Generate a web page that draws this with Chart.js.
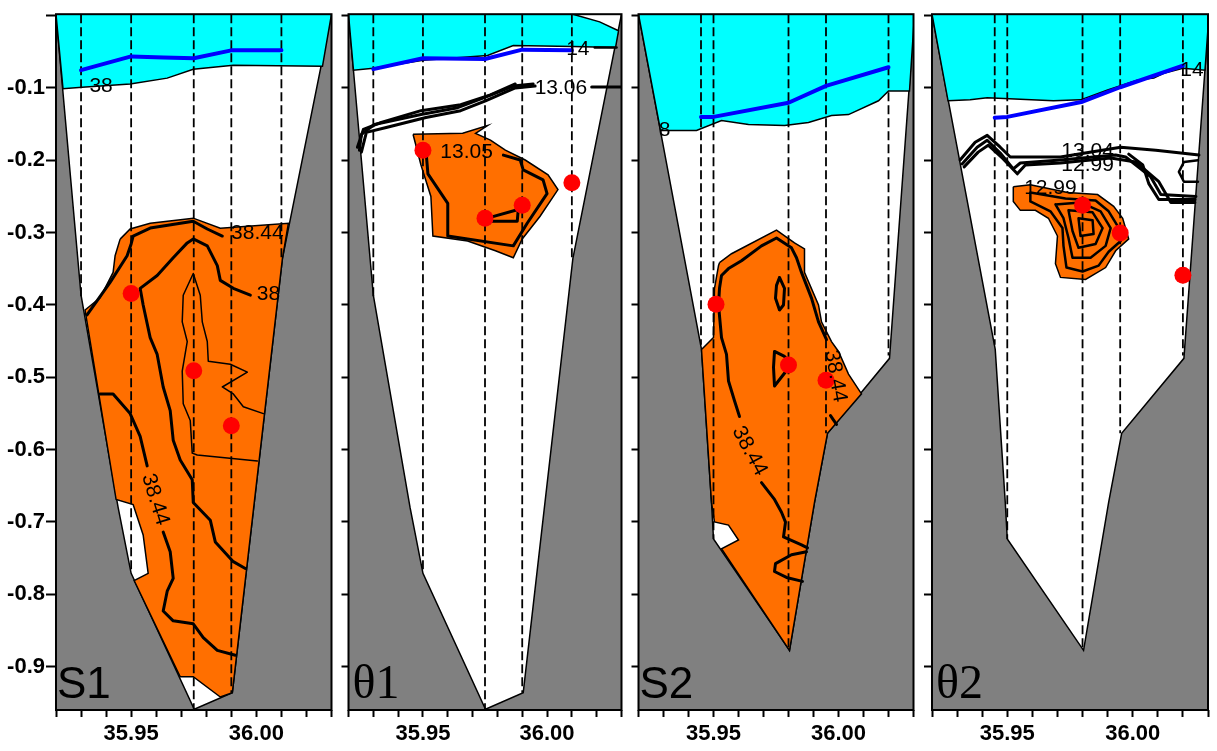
<!DOCTYPE html>
<html>
<head>
<meta charset="utf-8">
<script src="https://cdn.jsdelivr.net/npm/chart.js@4.4.1/dist/chart.umd.min.js"></script>
<style>
body { margin: 0; background: #fff; }
#wrap { position: relative; width: 1217px; height: 751px; }
canvas { position: absolute; top: 0; }
</style>
</head>
<body>
<div id="wrap">
  <canvas id="c1" width="340" height="751" style="left:0px"></canvas>
  <canvas id="c2" width="290" height="751" style="left:340px"></canvas>
  <canvas id="c3" width="292" height="751" style="left:630px"></canvas>
  <canvas id="c4" width="295" height="751" style="left:922px"></canvas>
</div>
<script>
// axes
var xMin = 35.92, xMax = 36.03, yMin = -0.96, yMax = 0.002;
var xLabelTicks = [35.95, 36.00];
var yLabelTicks = [-0.1, -0.2, -0.3, -0.4, -0.5, -0.6, -0.7, -0.8, -0.9];

// stations (dashed verticals) and their bottom depth
var stationsA = [35.930, 35.950, 35.975, 35.990, 36.010];
var stationBottomA = [-0.39, -0.771, -0.959, -0.936, -0.336];
var stationsB = [35.945, 35.950, 35.980, 35.995, 36.020];
var stationBottomB = [-0.455, -0.7235, -0.877, -0.5775, -0.47];

// section outlines (water inside the bathymetry)
var bankA = [[35.92,0.002],[35.93,-0.3865],[35.9448,-0.680],[35.95,-0.771],[35.9752,-0.959],[35.9904,-0.936],[36.0104,-0.336],[36.03,0.002]];
var bankB = [[35.92,0.002],[35.9452,-0.4615],[35.9492,-0.673],[35.950,-0.7235],[35.9804,-0.8776],[35.9904,-0.673],[35.9956,-0.5775],[36.0204,-0.4738],[36.0304,0.002]];

// ---- S1 ----
var cyanS1 = [[35.92,0.002],[35.9228,-0.101],[35.9304,-0.099],[35.9496,-0.0945],[35.9644,-0.0864],[35.9748,-0.074],[35.9908,-0.0686],[36.0264,-0.070],[36.03,0.002]];
var blueS1 = [[35.930,-0.0754],[35.950,-0.0564],[35.963,-0.0577],[35.975,-0.059],[35.990,-0.048],[36.010,-0.048]];
var orangeS1 = [[35.9456,-0.309],[35.9496,-0.295],[35.9576,-0.287],[35.9748,-0.280],[35.9856,-0.294],[36.0128,-0.287],[36.0104,-0.336],[35.9904,-0.936],[35.9856,-0.942],[35.9748,-0.914],[35.9696,-0.914],[35.9512,-0.781],[35.9568,-0.771],[35.9548,-0.718],[35.9508,-0.676],[35.944,-0.669],[35.9316,-0.407],[35.9376,-0.390],[35.9428,-0.355],[35.9436,-0.332]];
var s1LineA = [[35.9324,-0.4138],[35.9416,-0.3688],[35.9484,-0.3319],[35.95,-0.3156],[35.9508,-0.3047],[35.9576,-0.2937],[35.9748,-0.2842],[35.9804,-0.295],[35.9864,-0.3047]];
var s1LineB = [[35.9976,-0.3865],[35.9908,-0.377],[35.9856,-0.366],[35.9844,-0.3456],[35.9804,-0.3183],[35.9748,-0.3087],[35.9724,-0.3142],[35.9668,-0.3347],[35.9604,-0.3592],[35.9536,-0.377],[35.9548,-0.4001],[35.9576,-0.4452],[35.9604,-0.4684],[35.9628,-0.5134],[35.9656,-0.546],[35.9668,-0.587],[35.9696,-0.6143],[35.9744,-0.6416],[35.9748,-0.673],[35.9816,-0.6976],[35.9836,-0.7276],[35.9908,-0.7549],[35.9956,-0.7644]];
var s1LineC1 = [[35.9376,-0.523],[35.9428,-0.523],[35.9496,-0.5502],[35.9536,-0.5816],[35.9564,-0.6225]];
var s1LineC2 = [[35.9628,-0.714],[35.9656,-0.7412],[35.9668,-0.778],[35.9644,-0.7958],[35.9628,-0.8231],[35.9668,-0.8367],[35.9748,-0.8408],[35.9788,-0.8599],[35.9844,-0.8776],[35.9916,-0.8844]];
var s1Thin = [[36.0004,-0.6157],[35.9764,-0.6075],[35.9744,-0.6048],[35.9736,-0.5598],[35.9708,-0.5366],[35.9704,-0.4915],[35.9724,-0.4506],[35.9704,-0.4233],[35.9708,-0.3865],[35.9748,-0.3565],[35.9776,-0.3865],[35.9784,-0.4233],[35.9804,-0.4506],[35.9808,-0.4779],[35.9896,-0.482],[35.9964,-0.4929],[35.9864,-0.5134],[35.9908,-0.523],[35.9948,-0.5407],[36.0028,-0.5502]];
var dotsS1 = [[35.950,-0.384],[35.975,-0.491],[35.990,-0.567]];
var labelsS1 = [['38',35.938,-0.0973,0],['38.44',36.0004,-0.3006,0],['38',36.0048,-0.385,0],['38.44',35.9596,-0.669,73]];

// ---- theta1 ----
var cyanT1 = [[35.92,0.002],[35.922,-0.0754],[35.930,-0.0727],[35.950,-0.0618],[35.976,-0.055],[35.9864,-0.0413],[36.0104,-0.0427],[36.0276,-0.0441],[36.0288,-0.0209],[36.0212,-0.0086],[36.0104,0.002]];
var blueT1 = [[35.930,-0.074],[35.950,-0.059],[35.975,-0.060],[35.990,-0.047],[36.010,-0.048]];
var orangeT1 = [[35.946,-0.164],[35.966,-0.1627],[35.976,-0.152],[35.9712,-0.1627],[35.9772,-0.172],[35.9832,-0.186],[35.9912,-0.1996],[36.0004,-0.220],[36.0044,-0.2405],[35.9972,-0.2774],[35.990,-0.3088],[35.9864,-0.3347],[35.9792,-0.325],[35.968,-0.3115],[35.954,-0.3047],[35.9532,-0.250],[35.9492,-0.2064]];
var t1Band1 = [[35.9244,-0.186],[35.9252,-0.1641],[35.9304,-0.1505],[35.9492,-0.1368],[35.964,-0.1273],[35.9744,-0.1136],[35.9864,-0.0973],[35.9944,-0.0945]];
var t1Band2 = [[35.9236,-0.182],[35.926,-0.1573],[35.9332,-0.1477],[35.9492,-0.1314],[35.9652,-0.1232],[35.9772,-0.1096],[35.9872,-0.0945]];
var t1Band3 = [[35.9252,-0.1887],[35.9272,-0.1614],[35.9352,-0.1546],[35.9512,-0.1409],[35.9652,-0.1314],[35.9752,-0.1177],[35.9872,-0.100],[35.9952,-0.0973]];
var t1BandEnd = [[36.018,-0.0986],[36.0304,-0.0986]];
var t1Line14 = [[36.0192,-0.0441],[36.028,-0.0441]];
var t1Inner = [[35.9512,-0.186],[35.952,-0.2187],[35.960,-0.2596],[35.960,-0.3047],[35.9864,-0.3183],[35.992,-0.287],[36.000,-0.246],[35.9984,-0.227],[35.9904,-0.2132],[35.9892,-0.1996],[35.9824,-0.1928]];
var t1Loop = [[35.976,-0.280],[35.9884,-0.268],[35.988,-0.2842],[35.9772,-0.2842],[35.976,-0.280]];
var dotsT1 = [[35.950,-0.186],[35.975,-0.280],[35.990,-0.262],[36.010,-0.231]];
var labelsT1 = [['13.05',35.9676,-0.1887,0],['13.06',36.0056,-0.100,0],['14',36.0124,-0.0468,0]];

// ---- S2 ----
var cyanS2 = [[35.92,0.002],[35.9288,-0.1587],[35.9352,-0.1587],[35.9432,-0.1587],[35.9532,-0.145],[35.964,-0.1505],[35.9784,-0.1518],[35.988,-0.1477],[35.9972,-0.1382],[36.004,-0.1368],[36.016,-0.1177],[36.020,-0.1041],[36.0284,-0.1041],[36.0304,0.002]];
var blueS2 = [[35.945,-0.140],[35.950,-0.140],[35.980,-0.1205],[35.995,-0.097],[36.020,-0.0714]];
var orangeS2 = [[35.9524,-0.3415],[35.9572,-0.3292],[35.9752,-0.2965],[35.9824,-0.3142],[35.9864,-0.3224],[35.9864,-0.355],[35.992,-0.400],[35.9932,-0.4233],[35.9972,-0.4506],[36.000,-0.4643],[36.004,-0.4956],[36.0092,-0.5229],[35.9956,-0.5775],[35.9904,-0.673],[35.9804,-0.8776],[35.9532,-0.737],[35.960,-0.725],[35.956,-0.7044],[35.9504,-0.700],[35.9492,-0.673],[35.9452,-0.4615],[35.948,-0.452],[35.950,-0.445],[35.9504,-0.377],[35.952,-0.3456]];
var s2Line1 = [[35.9604,-0.5543],[35.9584,-0.5325],[35.956,-0.5052],[35.9552,-0.4684],[35.9532,-0.4452],[35.952,-0.400],[35.9524,-0.377],[35.9532,-0.3592],[35.956,-0.3497],[35.9612,-0.3388],[35.9692,-0.3183],[35.9752,-0.3074],[35.9812,-0.321],[35.9832,-0.3347],[35.9852,-0.355],[35.9892,-0.3906],[35.992,-0.4233],[35.9952,-0.4479]];
var s2Line2 = [[35.9692,-0.6457],[35.9744,-0.6689],[35.9772,-0.6866],[35.9788,-0.7003],[35.978,-0.7208],[35.9852,-0.7317],[35.9876,-0.7358]];
var s2Line3 = [[35.9872,-0.7412],[35.9812,-0.7453],[35.9748,-0.7576],[35.9744,-0.7685],[35.9792,-0.7767],[35.9856,-0.7822]];
var s2Line4 = [[35.9968,-0.5529],[35.9992,-0.5652]];
var s2Lens = [[35.9764,-0.362],[35.9784,-0.377],[35.978,-0.400],[35.9764,-0.4069],[35.9748,-0.3906],[35.9752,-0.3729],[35.9764,-0.362]];
var s2Wedge = [[35.9744,-0.4643],[35.9784,-0.4711],[35.9812,-0.482],[35.9744,-0.512],[35.974,-0.4861],[35.9744,-0.4643]];
var dotsS2 = [[35.951,-0.399],[35.980,-0.483],[35.995,-0.504]];
var labelsS2 = [['38.44',35.9644,-0.602,62],['38.44',35.9988,-0.4984,80],['8',35.9304,-0.1587,0]];

// ---- theta2 ----
var cyanT2 = [[35.92,0.002],[35.9264,-0.1177],[35.9352,-0.1164],[35.942,-0.1136],[35.9684,-0.1177],[35.9792,-0.1164],[35.990,-0.1027],[36.002,-0.0891],[36.0084,-0.0864],[36.0124,-0.0796],[36.020,-0.0727],[36.0288,-0.0754],[36.0304,0.002]];
var blueT2 = [[35.945,-0.141],[35.950,-0.140],[35.980,-0.119],[35.995,-0.099],[36.020,-0.069]];
var orangeT2 = [[35.9524,-0.2365],[35.9592,-0.2337],[35.974,-0.2446],[35.986,-0.2474],[35.9924,-0.2637],[35.996,-0.2801],[35.9984,-0.3087],[35.9932,-0.3251],[35.9892,-0.3483],[35.9812,-0.3647],[35.9712,-0.3619],[35.9692,-0.3429],[35.970,-0.3047],[35.9664,-0.2801],[35.9612,-0.2692],[35.9552,-0.2692],[35.9524,-0.257]];
var t2TopA = [[35.9312,-0.1996],[35.9372,-0.1751],[35.942,-0.1655],[35.9472,-0.1819],[35.9512,-0.1955],[35.9712,-0.1955],[35.9952,-0.1819],[36.0092,-0.186],[36.0264,-0.1928]];
var t2TopB = [[35.932,-0.205],[35.938,-0.1819],[35.942,-0.1723],[35.9472,-0.19],[35.9524,-0.2119],[35.9552,-0.2037],[35.9712,-0.1996],[35.9932,-0.1928],[35.9972,-0.1955],[36.0072,-0.223],[36.0112,-0.2474],[36.0252,-0.2501]];
var t2TopC = [[35.9328,-0.2091],[35.9384,-0.1887],[35.9424,-0.1791],[35.9484,-0.1982],[35.954,-0.2187],[35.9572,-0.2064],[35.9712,-0.2037],[35.9912,-0.1969],[36.0012,-0.2023],[36.0104,-0.2296],[36.0152,-0.2583],[36.0248,-0.2583]];
var t2TopD = [[35.9984,-0.1914],[36.004,-0.2064],[36.0064,-0.2323],[36.0104,-0.2542],[36.0248,-0.2542]];
var t2TopE = [[36.026,-0.200],[36.0204,-0.2023],[36.0184,-0.216],[36.0204,-0.2296],[36.026,-0.2296]];
var t2Loop1 = [[35.9592,-0.2446],[35.9732,-0.2528],[35.9852,-0.2555],[35.9904,-0.2705],[35.994,-0.291],[35.9952,-0.3115],[35.9904,-0.3265],[35.9864,-0.3456],[35.980,-0.3538],[35.9736,-0.3483],[35.9724,-0.3183],[35.972,-0.2937],[35.9672,-0.2705],[35.9592,-0.2569],[35.9592,-0.2446]];
var t2Loop2 = [[35.9692,-0.261],[35.9792,-0.2583],[35.9872,-0.2705],[35.9912,-0.2937],[35.9892,-0.3183],[35.9832,-0.3347],[35.976,-0.3347],[35.9744,-0.3074],[35.9724,-0.2801],[35.9692,-0.261]];
var t2Loop3 = [[35.9744,-0.2692],[35.984,-0.2719],[35.988,-0.2937],[35.9852,-0.3156],[35.9784,-0.321],[35.976,-0.2978],[35.9744,-0.2692]];
var t2Loop4 = [[35.9784,-0.2801],[35.984,-0.2828],[35.9844,-0.3019],[35.9792,-0.3047],[35.9784,-0.2801]];
var dotsT2 = [[35.980,-0.262],[35.995,-0.3005],[36.020,-0.359]];
var labelsT2 = [['12.99',35.9672,-0.2391,0],['13.04',35.982,-0.1873,0],['12.99',35.982,-0.2064,0],['14',36.0236,-0.0755,0]];

function pts(a) { return a.map(function(p){ return {x: p[0], y: p[1]}; }); }

function area(a, color, order) {
  var d = pts(a); d.push(d[0]);
  return { data: d, fill: 'shape', backgroundColor: color, borderColor: '#000', borderWidth: 1.5, order: order };
}
function curve(a, w, color, order) {
  return { data: pts(a), fill: false, borderColor: color, borderWidth: w, borderCapStyle: 'round', borderJoinStyle: 'round', order: order };
}
function stationLines(xs, bottoms) {
  return xs.map(function(x, i){
    return { data: [{x: x, y: yMax}, {x: x, y: bottoms[i]}], fill: false, borderColor: '#000', borderWidth: 1.8, borderDash: [9, 4], order: 40 };
  });
}
function dotSet(a) {
  return { data: pts(a), showLine: false, pointRadius: 8.5, pointBackgroundColor: '#ff0000', pointBorderWidth: 0, pointBorderColor: '#ff0000', order: 5 };
}

function decor(spec) {
  return {
    id: 'decor',
    beforeDatasetsDraw: function(chart) {
      var a = chart.chartArea, ctx = chart.ctx;
      ctx.save();
      ctx.fillStyle = '#808080';
      ctx.fillRect(a.left, a.top, a.right - a.left, a.bottom - a.top);
      ctx.restore();
    },
    afterDatasetsDraw: function(chart) {
      var a = chart.chartArea, ctx = chart.ctx, sx = chart.scales.x, sy = chart.scales.y;
      ctx.save();
      ctx.beginPath(); ctx.rect(a.left, a.top, a.right - a.left, a.bottom - a.top); ctx.clip();
      ctx.fillStyle = '#000';
      ctx.font = '21px "Liberation Sans"';
      ctx.textAlign = 'center'; ctx.textBaseline = 'middle';
      spec.labels.forEach(function(l){
        ctx.save();
        ctx.translate(sx.getPixelForValue(l[1]), sy.getPixelForValue(l[2]));
        ctx.rotate(l[3] * Math.PI / 180);
        ctx.fillText(l[0], 0, 0);
        ctx.restore();
      });
      ctx.font = spec.nameFont;
      ctx.textAlign = 'left'; ctx.textBaseline = 'alphabetic';
      ctx.fillText(spec.name, a.left + spec.nameDx, a.bottom - 12);
      ctx.restore();
    },
    afterDraw: function(chart) {
      var a = chart.chartArea, ctx = chart.ctx;
      ctx.save();
      ctx.strokeStyle = '#000'; ctx.lineWidth = 2;
      ctx.strokeRect(a.left, a.top, a.right - a.left, a.bottom - a.top);
      ctx.restore();
    }
  };
}

function makeChart(id, spec) {
  var tickFont = { family: '"Liberation Sans", Arial, sans-serif', size: 22, weight: 'bold' };
  new Chart(document.getElementById(id), {
    type: 'line',
    data: { datasets: spec.datasets },
    options: {
      responsive: false,
      animation: false,
      events: [],
      layout: { padding: { top: 5, right: spec.padRight, left: 0, bottom: 0 } },
      elements: { point: { radius: 0, hoverRadius: 0 }, line: { tension: 0 } },
      plugins: { legend: { display: false }, tooltip: { enabled: false } },
      scales: {
        x: {
          type: 'linear', min: xMin, max: xMax,
          afterFit: function(s) { s.height = 41; },
          border: { display: false },
          grid: { drawOnChartArea: false, drawTicks: true, tickLength: 7, tickColor: '#000', tickWidth: 2 },
          ticks: {
            stepSize: 0.01, autoSkip: false, maxRotation: 0, padding: 4, color: '#000', font: tickFont,
            callback: function(v) {
              var hit = xLabelTicks.filter(function(t){ return Math.abs(t - v) < 1e-6; });
              return hit.length ? hit[0].toFixed(2) : '';
            }
          }
        },
        y: {
          type: 'linear', min: yMin, max: yMax,
          afterFit: function(s) { s.width = spec.axisWidth; },
          border: { display: false },
          grid: { drawOnChartArea: false, drawTicks: true, tickLength: spec.tickLen, tickColor: '#000', tickWidth: 2 },
          ticks: {
            stepSize: 0.1, includeBounds: false, autoSkip: false, padding: 1, color: '#000', font: tickFont,
            callback: function(v) {
              if (!spec.showY) return '';
              var hit = yLabelTicks.filter(function(t){ return Math.abs(t - v) < 1e-6; });
              return hit.length ? hit[0].toFixed(1) : '';
            }
          }
        }
      }
    },
    plugins: [decor(spec)]
  });
}

var TH = 3, TN = 1.5;

makeChart('c1', {
  name: 'S1', nameFont: '44px "Liberation Sans"', nameDx: 1,
  axisWidth: 56, padRight: 7, tickLen: 10, showY: true, labels: labelsS1,
  datasets: [
    area(bankA, '#ffffff', 100),
    area(cyanS1, '#00ffff', 90),
    area(orangeS1, '#ff6f00', 80),
    curve(s1Thin, TN, '#000', 60),
    curve(s1LineA, TH, '#000', 55),
    curve(s1LineB, TH, '#000', 55),
    curve(s1LineC1, TH, '#000', 55),
    curve(s1LineC2, TH, '#000', 55)
  ].concat(stationLines(stationsA, stationBottomA), [curve(blueS1, 4, '#0000ff', 30), dotSet(dotsS1)])
});

makeChart('c2', {
  name: '\u03b81', nameFont: '48px "Liberation Serif"', nameDx: 4,
  axisWidth: 7, padRight: 7, tickLen: 7, showY: false, labels: labelsT1,
  datasets: [
    area(bankA, '#ffffff', 100),
    area(cyanT1, '#00ffff', 90),
    area(orangeT1, '#ff6f00', 80),
    curve(t1Band1, 3, '#000', 55),
    curve(t1Band2, 3, '#000', 55),
    curve(t1Band3, 3, '#000', 55),
    curve(t1BandEnd, 3, '#000', 55),
    curve(t1Line14, 2.5, '#000', 55),
    curve(t1Inner, TH, '#000', 55),
    curve(t1Loop, TH, '#000', 55)
  ].concat(stationLines(stationsA, stationBottomA), [curve(blueT1, 4, '#0000ff', 30), dotSet(dotsT1)])
});

makeChart('c3', {
  name: 'S2', nameFont: '44px "Liberation Sans"', nameDx: 1,
  axisWidth: 7, padRight: 8, tickLen: 7, showY: false, labels: labelsS2,
  datasets: [
    area(bankB, '#ffffff', 100),
    area(cyanS2, '#00ffff', 90),
    area(orangeS2, '#ff6f00', 80),
    curve(s2Line1, TH, '#000', 55),
    curve(s2Line2, TH, '#000', 55),
    curve(s2Line3, TH, '#000', 55),
    curve(s2Line4, TH, '#000', 55),
    curve(s2Lens, TH, '#000', 55),
    curve(s2Wedge, TH, '#000', 55)
  ].concat(stationLines(stationsB, stationBottomB), [curve(blueS2, 4, '#0000ff', 30), dotSet(dotsS2)])
});

makeChart('c4', {
  name: '\u03b82', nameFont: '48px "Liberation Serif"', nameDx: 4,
  axisWidth: 10, padRight: 9, tickLen: 8, showY: false, labels: labelsT2,
  datasets: [
    area(bankB, '#ffffff', 100),
    area(cyanT2, '#00ffff', 90),
    area(orangeT2, '#ff6f00', 80),
    curve(t2TopA, 3, '#000', 55),
    curve(t2TopB, 3, '#000', 55),
    curve(t2TopC, 3, '#000', 55),
    curve(t2TopD, 3, '#000', 55),
    curve(t2TopE, 2.5, '#000', 55),
    curve(t2Loop1, 2.5, '#000', 55),
    curve(t2Loop2, 2.5, '#000', 55),
    curve(t2Loop3, 2.5, '#000', 55),
    curve(t2Loop4, 2.5, '#000', 55)
  ].concat(stationLines(stationsB, stationBottomB), [curve(blueT2, 4, '#0000ff', 30), dotSet(dotsT2)])
});
</script>
</body>
</html>
